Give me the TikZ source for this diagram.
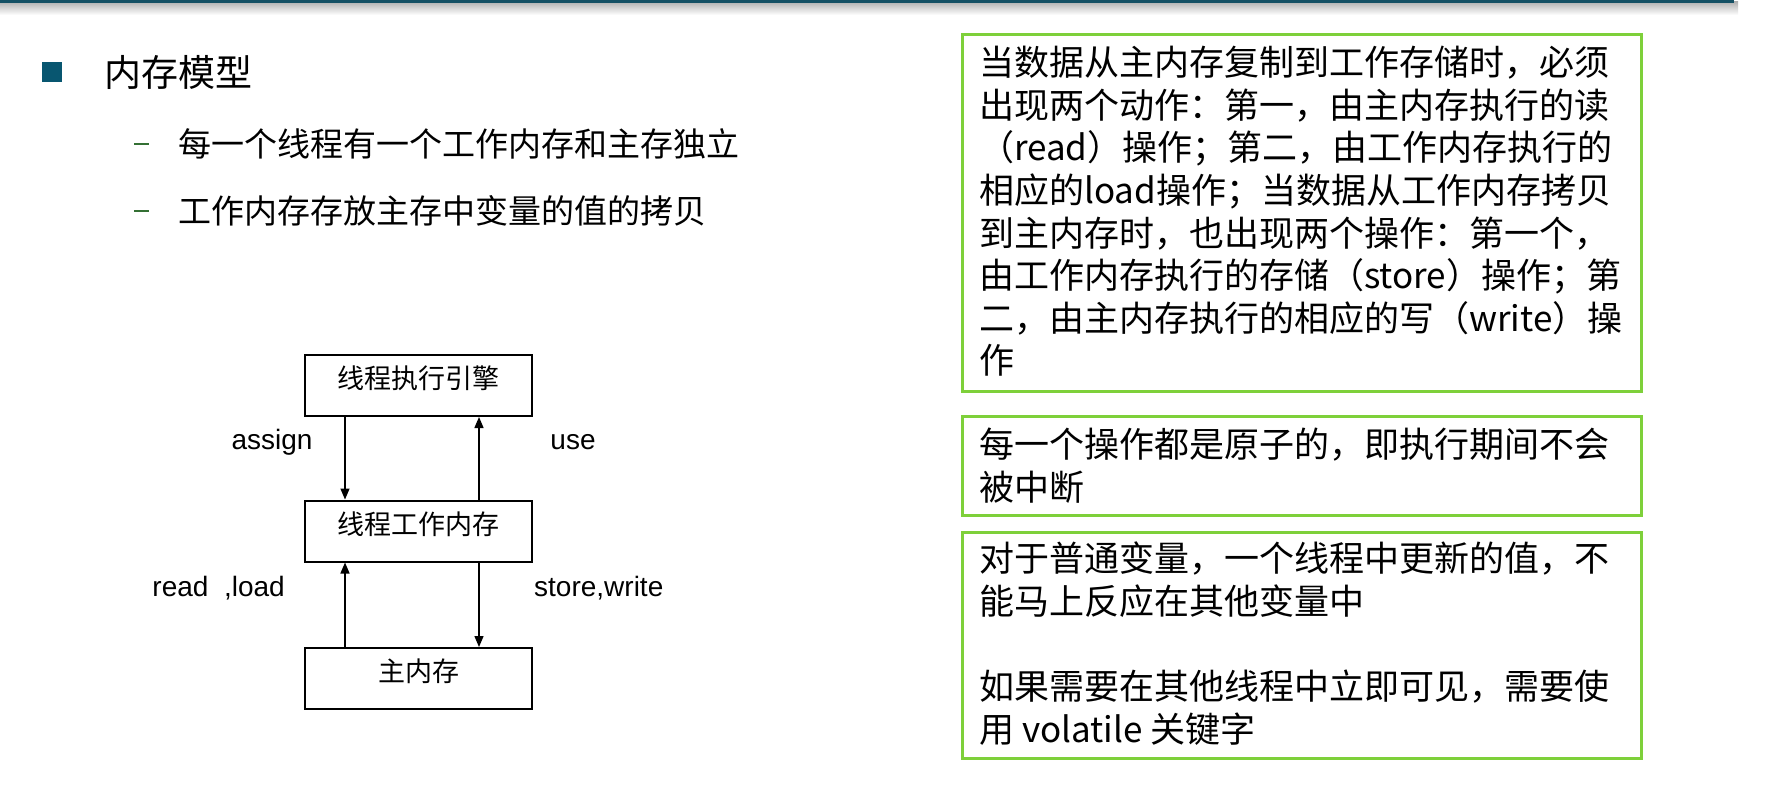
\documentclass[tikz,border=0pt]{standalone}
\usepackage{fontspec}
\setmainfont{Liberation Sans}
\newfontfamily\cjk{Noto Sans CJK SC}
\usetikzlibrary{arrows.meta}
\definecolor{barteal}{RGB}{20,80,100}
\definecolor{bullteal}{RGB}{8,86,112}
\definecolor{dashgreen}{RGB}{52,112,52}
\definecolor{boxgreen}{RGB}{126,208,58}
\begin{document}
\begin{tikzpicture}[x=1pt,y=-1pt,
  flowbox/.style={draw=black,line width=2pt,minimum width=227pt,minimum height=61pt,inner sep=0pt,text height=22.4pt,text depth=16pt,font=\cjk\fontsize{27pt}{32pt}\selectfont},
  lbl/.style={font=\fontsize{28pt}{32pt}\selectfont,inner sep=0pt},
  flowarrow/.style={line width=1.4pt,-{Triangle[length=11pt,width=9pt]}},
  notebox/.style={draw=boxgreen,line width=3pt},
  notetext/.style={anchor=north west,inner sep=0pt,align=left,font=\cjk\fontsize{35pt}{42.6pt}\selectfont},
  titletext/.style={anchor=west,inner sep=0pt,font=\cjk\fontsize{37pt}{44pt}\selectfont},
  subtext/.style={anchor=west,inner sep=0pt,font=\cjk\fontsize{33pt}{40pt}\selectfont},
  subdash/.style={dashgreen,line width=2.4pt}
]
\useasboundingbox (0,0) rectangle (1782,808);
\fill[white] (0,0) rectangle (1782,808);
% top bar
\shade[top color=black!30, bottom color=white] (0,2) rectangle (1738,15);
\fill[barteal] (0,0) rectangle (1734,3);

% left title
\node[fill=bullteal,minimum size=19.5pt,inner sep=0pt] (bullet) at (52,72) {};
\node[titletext] (title) at (104,72) {内存模型};
\draw[subdash] (134,144) -- (149,144);
\node[subtext] (sub1) at (178,144) {每一个线程有一个工作内存和主存独立};
\draw[subdash] (134,211) -- (149,211);
\node[subtext] (sub2) at (178,211) {工作内存存放主存中变量的值的拷贝};

% flow diagram
\node[flowbox] (eng) at (418.5,385.5) {线程执行引擎};
\node[flowbox] (work) at (418.5,531) {线程工作内存};
\node[flowbox] (main) at (418.5,678.5) {主内存};
\draw[flowarrow] ([xshift=-73.5pt]eng.south) -- ([xshift=-73.5pt]work.north);
\draw[flowarrow] ([xshift=60.5pt]work.north) -- ([xshift=60.5pt]eng.south);
\draw[flowarrow] ([xshift=-73.5pt]main.north) -- ([xshift=-73.5pt]work.south);
\draw[flowarrow] ([xshift=60.5pt]work.south) -- ([xshift=60.5pt]main.north);
\node[lbl] (assign) at (272,442) {assign};
\node[lbl] (use) at (573,442) {use};
\node[lbl,anchor=east] (readload) at (285,588) {read\ \ ,load};
\node[lbl,anchor=west] (storewrite) at (534,588) {store,write};

% note boxes
\draw[notebox] (962,35) rectangle (1641.5,391);
\node[notetext] (note1) at (979,46) {当数据从主内存复制到工作存储时，必须\\
出现两个动作：第一，由主内存执行的读\\
（read）操作；第二，由工作内存执行的\\
相应的load操作；当数据从工作内存拷贝\\
到主内存时，也出现两个操作：第一个，\\
由工作内存执行的存储（store）操作；第\\
二，由主内存执行的相应的写（write）操\\
作};
\draw[notebox] (962,416.5) rectangle (1641.5,515.5);
\node[notetext] (note2) at (979,428) {每一个操作都是原子的，即执行期间不会\\
被中断};
\draw[notebox] (962,532.5) rectangle (1641.5,758.5);
\node[notetext] (note3) at (979,542) {对于普通变量，一个线程中更新的值，不\\
能马上反应在其他变量中\\
~\\
如果需要在其他线程中立即可见，需要使\\
用 volatile 关键字};
\end{tikzpicture}
\end{document}
